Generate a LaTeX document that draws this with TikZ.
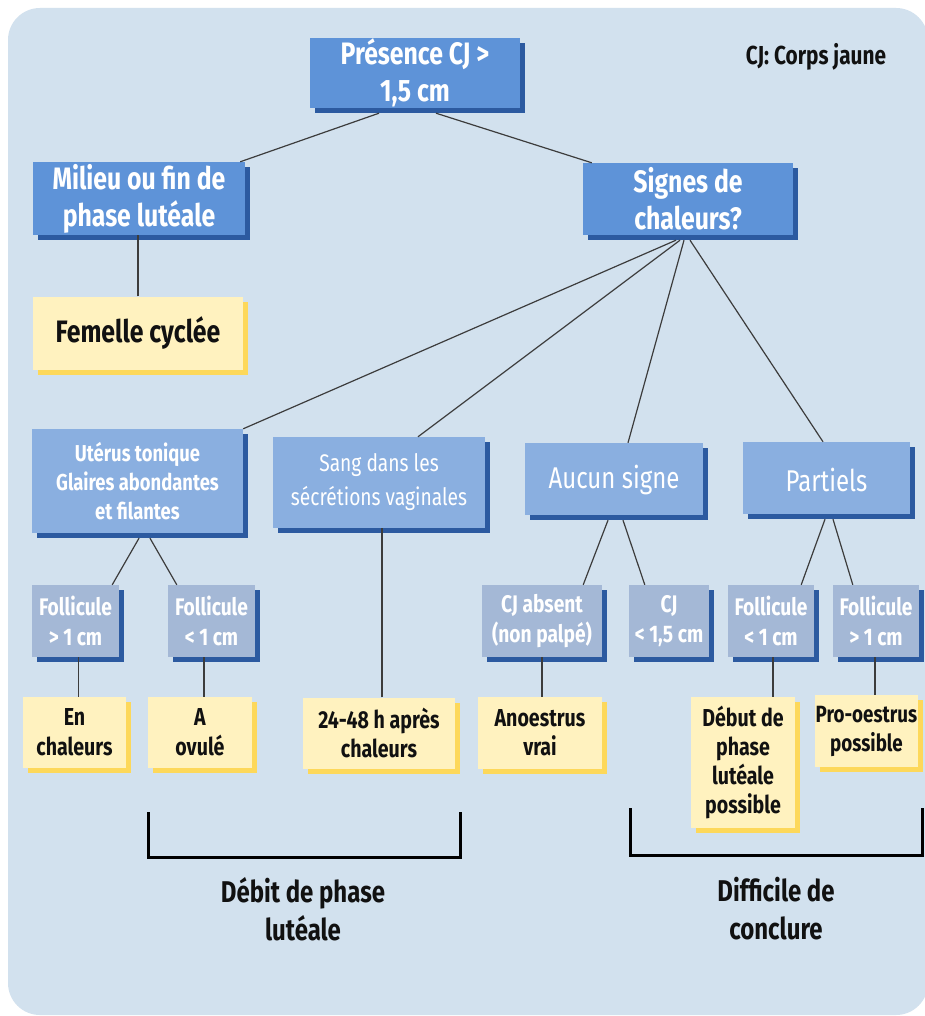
\documentclass[tikz,border=0pt]{standalone}
\usepackage{fontspec}
\setmainfont{Fira Sans}[FakeStretch=0.8]
\usetikzlibrary{shadows}
\definecolor{bgc}{RGB}{210,225,238}
\definecolor{bA}{RGB}{94,147,216}
\definecolor{bB}{RGB}{138,175,224}
\definecolor{bC}{RGB}{164,184,214}
\definecolor{shb}{RGB}{44,90,160}
\definecolor{yfill}{RGB}{255,242,191}
\definecolor{ysh}{RGB}{253,216,90}
\definecolor{lnc}{RGB}{60,60,60}
\definecolor{txk}{RGB}{17,17,17}
\begin{document}
\begin{tikzpicture}[x=1pt,y=-1pt,
  bx/.style={rectangle, inner sep=0pt, align=center},
  dn/.style={execute at begin node={\rule{0pt}{#1}}},
  bluesh/.style={bx, text=white, general shadow={fill=shb, shadow xshift=5pt, shadow yshift=-5pt}},
  lvA/.style={bluesh, fill=bA, font=\bfseries\fontsize{31}{37}\selectfont, dn=31pt},
  lvB/.style={bluesh, fill=bB},
  lvC/.style={bluesh, fill=bC, font=\bfseries\fontsize{24}{30}\selectfont, dn=26pt},
  yel/.style={bx, fill=yfill, text=txk, general shadow={fill=ysh, shadow xshift=5pt, shadow yshift=-5pt}},
  conn/.style={draw=lnc, line width=1.2pt},
  brk/.style={draw=black, line width=3pt},
  lbl/.style={align=center, text=txk, font=\bfseries\fontsize{30}{38}\selectfont}
]
\useasboundingbox (0,0) rectangle (925,1016);
\fill[white] (0,0) rectangle (925,1016);
\fill[bgc, rounded corners=32pt] (8,8) rectangle (928,1015);

% level 1
\node[lvA, minimum width=210pt, minimum height=70pt] (pres) at (415,73) {Présence CJ >\\1,5 cm};
\node[lvA, minimum width=212pt, minimum height=73pt] (mil) at (139,198.5) {Milieu ou fin de\\phase lutéale};
\node[lvA, minimum width=210pt, minimum height=72pt] (sig) at (688,199) {Signes de\\chaleurs?};
\node[yel, minimum width=210pt, minimum height=73pt, font=\bfseries\fontsize{31}{37}\selectfont] (fem) at (138,333) {Femelle cyclée};

\node[text=txk, font=\bfseries\fontsize{26}{30}\selectfont] (leg) at (816,57) {CJ: Corps jaune};

% level 2
\node[lvB, minimum width=211pt, minimum height=104pt, font=\bfseries\fontsize{23}{29}\selectfont, dn=27pt] (ut) at (137.5,481) {Utérus tonique\\Glaires abondantes\\et filantes};
\node[lvB, minimum width=212pt, minimum height=91pt, font=\fontsize{24}{34}\selectfont, dn=22pt] (sang) at (379,482.5) {Sang dans les\\sécrétions vaginales};
\node[lvB, minimum width=178pt, minimum height=72pt, font=\fontsize{30}{34}\selectfont, dn=25pt] (auc) at (614,479) {Aucun signe};
\node[lvB, minimum width=167pt, minimum height=72pt, font=\fontsize{30}{34}\selectfont, dn=27pt] (part) at (826.5,478) {Partiels};

% level 3
\node[lvC, minimum width=87pt, minimum height=72pt] (f1) at (75.5,621) {Follicule\\> 1 cm};
\node[lvC, minimum width=87pt, minimum height=72pt] (f2) at (211.5,621) {Follicule\\< 1 cm};
\node[lvC, minimum width=120pt, minimum height=72pt] (cja) at (542,621) {CJ absent\\(non palpé)};
\node[lvC, minimum width=80pt, minimum height=72pt] (cjb) at (669,621) {CJ\\< 1,5 cm};
\node[lvC, minimum width=86pt, minimum height=72pt] (f3) at (771,621) {Follicule\\< 1 cm};
\node[lvC, minimum width=86pt, minimum height=72pt] (f4) at (876,621) {Follicule\\> 1 cm};

% leaves
\tikzset{leaf/.style={yel, font=\bfseries\fontsize{24.5}{30}\selectfont}}
\node[leaf, minimum width=103pt, minimum height=71pt] (enc) at (74.5,732.5) {En\\chaleurs};
\node[leaf, minimum width=104pt, minimum height=71pt] (ovu) at (200,732.5) {A\\ovulé};
\node[leaf, minimum width=152pt, minimum height=71pt, font=\bfseries\fontsize{24.5}{29}\selectfont] (h24) at (379,733) {24-48 h après\\chaleurs};
\node[leaf, minimum width=124pt, minimum height=72pt, font=\bfseries\fontsize{24.5}{29}\selectfont] (ano) at (540,733) {Anoestrus\\vrai};
\node[leaf, minimum width=104pt, minimum height=131pt, font=\bfseries\fontsize{24.5}{29}\selectfont] (deb) at (743,762.5) {Début de\\phase\\lutéale\\possible};
\node[leaf, minimum width=103pt, minimum height=72pt, font=\bfseries\fontsize{23.5}{29}\selectfont] (pro) at (866.5,731) {Pro-oestrus\\possible};

% connectors
\draw[conn] ([xshift=-36pt,yshift=-5pt]pres.south) -- ([xshift=-5pt]mil.north east);
\draw[conn] ([xshift=21pt,yshift=-5pt]pres.south) -- ([xshift=9pt]sig.north west);
\draw[conn] (fem.north) -- (fem.north |- mil.south);
\draw[conn] ([xshift=-12pt,yshift=-5pt]sig.south) -- (ut.north east);
\draw[conn] ([xshift=-8pt,yshift=-5pt]sig.south) -- ([xshift=39pt]sang.north);
\draw[conn] ([xshift=-4pt,yshift=-5pt]sig.south) -- ([xshift=14pt]auc.north);
\draw[conn] ([xshift=2pt,yshift=-5pt]sig.south) -- ([xshift=-3.5pt]part.north);
\draw[conn] ([xshift=1.5pt,yshift=-5pt]ut.south) -- ([xshift=-7pt]f1.north east);
\draw[conn] ([xshift=12.5pt,yshift=-5pt]ut.south) -- ([xshift=9pt]f2.north west);
\draw[conn] ([xshift=-6pt,yshift=-5pt]auc.south) -- ([xshift=-19pt]cja.north east);
\draw[conn] ([xshift=9pt,yshift=-5pt]auc.south) -- ([xshift=16pt]cjb.north west);
\draw[conn] ([xshift=-1.5pt,yshift=-5pt]part.south) -- ([xshift=-13pt]f3.north east);
\draw[conn] ([xshift=6.5pt,yshift=-5pt]part.south) -- ([xshift=20pt]f4.north west);
\draw[conn] ([xshift=4pt]enc.north) -- ([xshift=4pt]enc.north |- f1.south);
\draw[conn] ([xshift=4pt]ovu.north) -- ([xshift=4pt]ovu.north |- f2.south);
\draw[conn] ([xshift=3pt]h24.north) -- ([xshift=3pt]h24.north |- sang.south);
\draw[conn] ([xshift=2pt]ano.north) -- ([xshift=2pt]ano.north |- cja.south);
\draw[conn] ([xshift=30pt]deb.north) -- ([xshift=30pt]deb.north |- f3.south);
\draw[conn] ([xshift=8.5pt]pro.north) -- ([xshift=8.5pt]pro.north |- f4.south);

% brackets
\draw[brk] (148,812) -- (148,857) -- (460,857) -- (460,812);
\draw[brk] (630,808) -- (630,855) -- (922,855) -- (922,808);
\node[lbl] (dbt) at (303,909) {Débit de phase\\lutéale};
\node[lbl] (dif) at (776,909) {Difficile de\\conclure};
\end{tikzpicture}
\end{document}
